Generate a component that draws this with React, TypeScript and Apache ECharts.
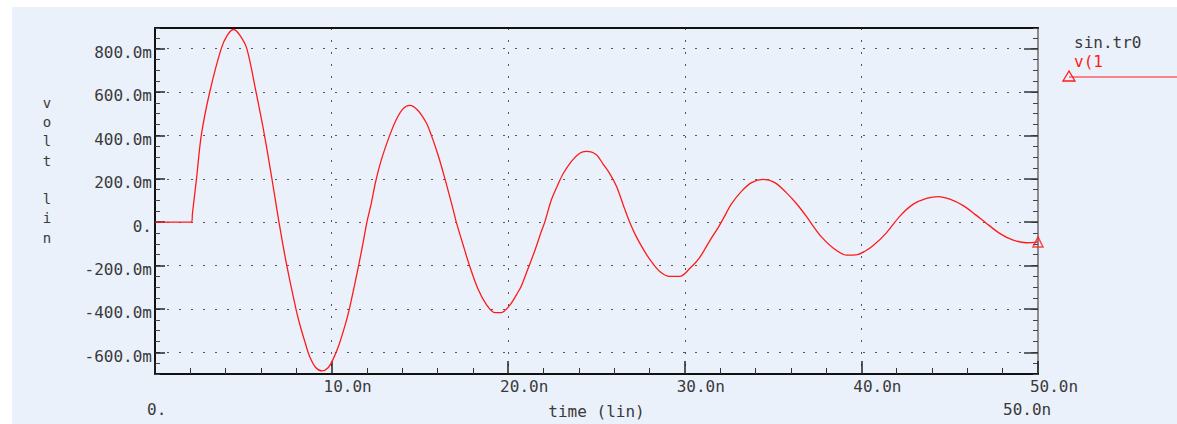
import React, { useEffect, useRef } from 'react';
import * as echarts from 'echarts';

// time in ns
const timeNs = [
  0, 2.07, 2.12, 2.35, 2.62, 3.1, 3.75, 4.1, 4.45, 4.8, 5.2, 5.72, 6.2, 6.62, 7.02, 7.45, 7.98, 8.2, 8.5, 8.75,
  9.1, 9.46, 9.8, 10.06, 10.4, 10.79, 11.02, 11.3, 11.55, 11.78, 12.0, 12.25, 12.49, 12.82, 13.29, 13.66, 14.04,
  14.42, 14.89, 15.36, 15.65, 16.02, 16.4, 16.87, 17.06, 17.44, 17.82, 18.29, 18.76, 19.24, 19.61, 20.08, 20.56,
  20.75, 21.12, 21.5, 21.88, 22.07, 22.45, 22.82, 23.1, 23.58, 24.05, 24.43, 24.99, 25.37, 25.75, 26.13, 26.6,
  26.88, 27.26, 27.73, 28.11, 28.58, 29.15, 29.72, 30.28, 30.85, 31.42, 31.89, 32.17, 32.65, 33.21, 33.78, 34.44,
  35.1, 35.76, 36.33, 36.9, 37.18, 37.74, 38.4, 39.16, 39.7, 40.2, 40.67, 41.43, 42.18, 42.94, 43.69, 44.35,
  45.01, 45.77, 46.53, 47.0, 47.85, 48.6, 49.36, 50,
];
// voltage in mV
const voltMv = [
  0, 0, 40, 200, 400, 600, 800, 862, 888, 862, 800, 600, 400, 200, 0, -195, -400, -472, -555, -618,
  -670, -686, -671, -636, -570, -468, -395, -290, -192, -96, 0, 88, 185, 288, 400, 472, 522,
  538, 515, 458, 400, 312, 205, 62, 0, -103, -203, -308, -379, -417, -417, -384, -322,
  -293, -215, -133, -42, 0, 104, 174, 222, 280, 318, 326, 311, 268, 224, 165, 60,
  0, -68, -136, -182, -227, -250, -250, -214, -162, -85, -25, 15, 85, 142, 182, 197,
  182, 135, 85, 25, -8, -68, -119, -152, -151, -134, -108, -48, 28, 83, 110, 118,
  106, 76, 30, 0, -53, -83, -95, -91,
];

const xTicks = [0, 10, 20, 30, 40, 50];
const yTicks = [-600, -400, -200, 0, 200, 400, 600, 800];
const yMin = -700;
const yMax = 895;

const FONT = 'DejaVu Sans Mono';
const TXT = '#3a3a3a';
const RED = '#ff1a1a';
const BG = '#eaf1fa';

export default function App() {
  const ref = useRef<HTMLDivElement>(null);
  useEffect(() => {
    document.body.style.margin = '0';
    const chart = echarts.init(ref.current!, null, { renderer: 'svg' });
    const data = timeNs.map((t, i) => [t, voltMv[i]]);
    const last = data[data.length - 1];
    const fmtY = (v: number) => {
      if (!yTicks.includes(v)) return '';
      return v === 0 ? '{a|0.}' : `{a|${v.toFixed(1)}m}`;
    };
    const dotted = { color: '#555', width: 1, type: [2, 10] as any };
    const yBase = { type: 'value', min: yMin, max: yMax, interval: 50, scale: true };
    const option: any = {
      animation: false,
      backgroundColor: BG,
      grid: { left: 155, top: 28, right: 139, bottom: 45, containLabel: false },
      xAxis: [
        {
          type: 'value', min: xTicks[0], max: xTicks[xTicks.length - 1], interval: 10,
          position: 'bottom',
          axisLine: { show: true, onZero: false, lineStyle: { color: '#111', width: 2 } },
          axisTick: { show: true, inside: true, length: 13, lineStyle: { color: '#222', width: 1.5 } },
          minorTick: { show: true, splitNumber: 5, length: 6, lineStyle: { color: '#333', width: 1 } },
          axisLabel: {
            margin: 4,
            formatter: (v: number) => (v === 0 ? '' : `{a|${v.toFixed(1)}n}`),
            rich: { a: { fontFamily: FONT, fontSize: 16, color: TXT, padding: [0, 0, 0, 32] } },
          },
          splitLine: { show: true, lineStyle: dotted },
          name: 'time (lin)',
          nameLocation: 'middle',
          nameGap: 29,
          nameTextStyle: { fontFamily: FONT, fontSize: 16, color: TXT },
        },
        {
          type: 'value', min: xTicks[0], max: xTicks[xTicks.length - 1], interval: 10,
          position: 'top',
          axisLine: { show: true, onZero: false, lineStyle: { color: '#111', width: 2 } },
          axisTick: { show: false },
          axisLabel: { show: false },
          splitLine: { show: false },
        },
      ],
      yAxis: [
        {
          ...yBase,
          position: 'left',
          axisLine: { show: true, onZero: false, lineStyle: { color: '#111', width: 2 } },
          axisTick: { show: true, inside: true, length: 5, lineStyle: { color: '#444', width: 1 } },
          axisLabel: {
            margin: 3,
            formatter: fmtY,
            rich: { a: { fontFamily: FONT, fontSize: 16, color: TXT, padding: [8, 0, 0, 0] } },
          },
          splitLine: { show: false },
        },
        {
          ...yBase,
          position: 'left',
          axisLine: { show: false, onZero: false },
          axisTick: { show: true, inside: true, length: 10, customValues: yTicks, lineStyle: { color: '#222', width: 1.5 } },
          axisLabel: { show: false, customValues: yTicks },
          splitLine: { show: true, lineStyle: dotted },
        },
        {
          ...yBase,
          position: 'right',
          axisLine: { show: true, onZero: false, lineStyle: { color: '#8c8c8c', width: 2 } },
          axisTick: { show: true, inside: true, length: 5, lineStyle: { color: '#444', width: 1 } },
          axisLabel: { show: false },
          splitLine: { show: false },
        },
        {
          ...yBase,
          position: 'right',
          axisLine: { show: false, onZero: false },
          axisTick: { show: true, inside: true, length: 14, customValues: yTicks, lineStyle: { color: '#333', width: 1.5 } },
          axisLabel: { show: false, customValues: yTicks },
          splitLine: { show: false },
        },
      ],
      series: [
        {
          type: 'line',
          xAxisIndex: 0,
          yAxisIndex: 0,
          data,
          symbol: 'none',
          smooth: 0.3,
          lineStyle: { color: RED, width: 1.3 },
          z: 5,
        },
        {
          type: 'scatter',
          xAxisIndex: 0,
          yAxisIndex: 0,
          data: [last],
          symbol: 'triangle',
          symbolSize: 10,
          itemStyle: { color: 'rgba(0,0,0,0)', borderColor: RED, borderWidth: 1.5 },
          z: 6,
        },
      ],
      graphic: [
        { type: 'rect', shape: { x: 0, y: 0, width: 1177, height: 7 }, style: { fill: '#fff' }, silent: true },
        { type: 'rect', shape: { x: 0, y: 0, width: 12, height: 424 }, style: { fill: '#fff' }, silent: true },
        {
          type: 'text', x: 47, y: 93,
          style: {
            text: 'v\no\nl\nt\n \nl\ni\nn', fontFamily: FONT, fontSize: 14, lineHeight: 19.3,
            fill: TXT, align: 'center', verticalAlign: 'top',
          },
        },
        {
          type: 'text', x: 147, y: 409,
          style: { text: '0.', fontFamily: FONT, fontSize: 16, fill: TXT, align: 'left', verticalAlign: 'middle' },
        },
        {
          type: 'text', x: 1003, y: 409,
          style: { text: '50.0n', fontFamily: FONT, fontSize: 16, fill: TXT, align: 'left', verticalAlign: 'middle' },
        },
        {
          type: 'text', x: 1074, y: 42,
          style: { text: 'sin.tr0', fontFamily: FONT, fontSize: 16, fill: TXT, align: 'left', verticalAlign: 'middle' },
        },
        {
          type: 'text', x: 1074, y: 61,
          style: { text: 'v(1', fontFamily: FONT, fontSize: 16, fill: RED, align: 'left', verticalAlign: 'middle' },
        },
        {
          type: 'line', shape: { x1: 1069, y1: 77, x2: 1177, y2: 77 },
          style: { stroke: RED, lineWidth: 1 },
        },
        {
          type: 'polygon', shape: { points: [[1063, 81], [1069, 71], [1075, 81]] },
          style: { stroke: RED, fill: 'none', lineWidth: 1.3 },
        },
      ],
    };
    chart.setOption(option);
    return () => chart.dispose();
  }, []);
  return <div ref={ref} style={{ width: 1177, height: 424 }} />;
}
